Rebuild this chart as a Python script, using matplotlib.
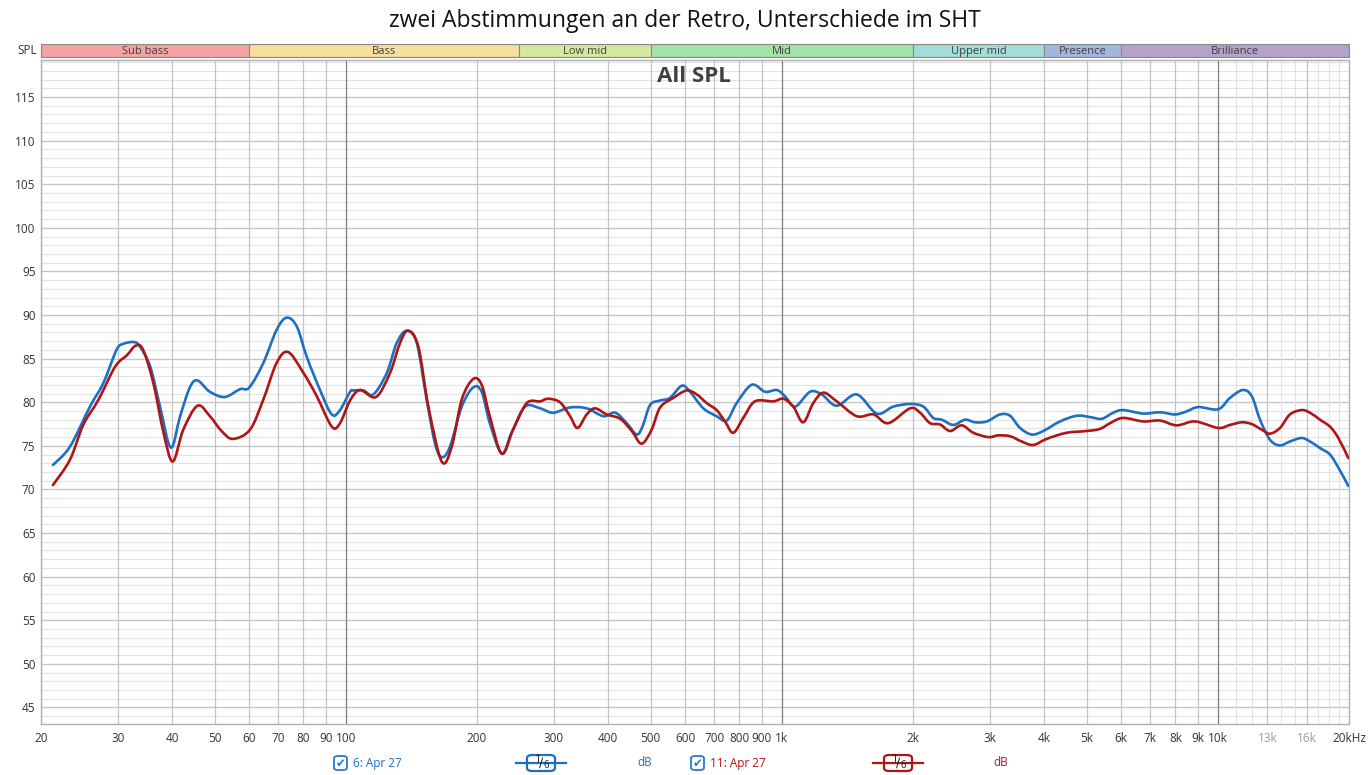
import numpy as np
import matplotlib
matplotlib.use('Agg')
import matplotlib.pyplot as plt
from matplotlib.patches import Rectangle, FancyBboxPatch, PathPatch
from matplotlib.path import Path

plt.rcParams['font.family'] = ['Open Sans', 'DejaVu Sans']

title = 'zwei Abstimmungen an der Retro, Unterschiede im SHT'

# frequency bands (name, start Hz, end Hz, colour)
band_names = ['Sub bass', 'Bass', 'Low mid', 'Mid', 'Upper mid', 'Presence', 'Brilliance']
band_edges = [20, 60, 250, 500, 2000, 4000, 6000, 20000]
band_colors = ['#f4a3a3', '#f7df9e', '#d5e99e', '#a3e2a8', '#a3ddd8', '#a3b6de', '#b6a3cc']

# measurement 6: Apr 27 (blue)
blue_f = [21.3, 23.3, 25.9, 27.8, 29.8, 30.9, 32.7, 33.7, 35.6, 37.5, 39.7, 41.7, 43.9, 45.7,
          48.8, 52.8, 57.2, 60.1, 64.7, 69.4, 73.2, 77.2, 81.4, 87.3, 92.9, 97.0, 102.3, 104.1,
          109.7, 115.7, 124.2, 130.9, 138, 145.5, 153.3, 160.2, 166, 173.4, 184.5, 196, 205,
          214, 228, 240, 258, 279, 299, 327, 357, 390, 415, 441, 465, 480, 499, 526, 554,
          590, 616, 661, 709, 748, 788, 853, 916, 974, 1017, 1073, 1161, 1235, 1337, 1486,
          1651, 1802, 1969, 2112, 2226, 2328, 2475, 2633, 2775, 2952, 3167, 3339, 3520, 3743,
          3979, 4347, 4748, 5093, 5418, 5759, 6071, 6750, 7372, 7980, 8484, 9024, 10023,
          10667, 11409, 11966, 12501, 13176, 13890, 14640, 15576, 16277, 17158, 18089,
          18906, 19930]
blue_db = [72.8, 74.9, 79.5, 82.2, 86.0, 86.7, 86.9, 86.4, 84.1, 79.5, 74.8, 78.4, 81.7, 82.5,
           81.2, 80.6, 81.5, 81.7, 84.5, 88.3, 89.7, 88.7, 85.2, 81.4, 78.6, 79.1, 81.2, 81.35,
           81.35, 80.9, 83.35, 86.8, 88.2, 86.8, 80.3, 75.3, 73.7, 74.9, 79.5, 81.7, 81.2,
           77.6, 74.1, 76.5, 79.5, 79.3, 78.8, 79.4, 79.3, 78.4, 78.8, 77.6, 76.3, 77.3, 79.7,
           80.2, 80.5, 81.9, 81.2, 79.3, 78.4, 77.9, 79.9, 82.0, 81.2, 81.4, 80.7, 79.5, 81.2,
           80.9, 79.6, 80.9, 78.7, 79.5, 79.8, 79.5, 78.2, 78.0, 77.4, 78.0, 77.7, 77.8, 78.6,
           78.45, 77.05, 76.3, 76.7, 77.8, 78.45, 78.3, 78.1, 78.8, 79.1, 78.7, 78.85, 78.6,
           78.95, 79.45, 79.2, 80.5, 81.4, 80.7, 78.0, 75.7, 75.05, 75.5, 75.9, 75.5, 74.75,
           74.0, 72.5, 70.4]

# measurement 11: Apr 27 (red)
red_f = [21.3, 23.3, 25.0, 27.1, 29.6, 31.5, 33.0, 34.3, 36.2, 38.2, 40.1, 42.4, 45.7, 48.8,
         51.9, 55.1, 60.3, 64.7, 69.4, 73.8, 80.0, 85.8, 92.9, 97.0, 102.3, 107.8, 117.3,
         126.3, 133.2, 139, 146.7, 154.7, 166, 175, 184.5, 196, 205, 214, 228, 242, 260, 279,
         291, 310, 327, 340, 357, 373, 397, 426, 453, 477, 503, 526, 564, 605, 638, 673, 709,
         741, 774, 816, 868, 956, 1008, 1063, 1120, 1181, 1246, 1337, 1486, 1623, 1755, 1969,
         2076, 2188, 2307, 2433, 2586, 2750, 2977, 3138, 3339, 3551, 3775, 4053, 4503, 5007,
         5370, 5710, 6071, 6750, 7372, 8052, 8868, 10023, 10667, 11350, 11966, 12614, 13176,
         13890, 14640, 15576, 16277, 17158, 18089, 18906, 19930]
red_db = [70.5, 73.4, 77.4, 80.3, 84.1, 85.4, 86.5, 86.0, 82.2, 76.5, 73.2, 76.85, 79.6, 78.4,
          76.7, 75.8, 76.85, 80.3, 84.5, 85.75, 83.35, 80.7, 77.2, 77.6, 80.2, 81.4, 80.6,
          83.35, 86.8, 88.2, 86.4, 79.5, 73.2, 74.9, 80.3, 82.66, 82.0, 78.4, 74.1, 76.85, 79.9,
          80.1, 80.4, 80.0, 78.4, 77.05, 78.6, 79.3, 78.6, 78.1, 76.7, 75.25, 76.85, 79.4,
          80.5, 81.35, 80.9, 79.9, 79.1, 77.8, 76.5, 78.2, 80.1, 80.1, 80.4, 79.5, 77.7, 79.9,
          81.1, 80.1, 78.4, 78.6, 77.6, 79.3, 78.8, 77.6, 77.45, 76.7, 77.35, 76.5, 76.0, 76.2,
          76.1, 75.5, 75.1, 75.8, 76.5, 76.7, 76.95, 77.7, 78.2, 77.8, 77.9, 77.35, 77.8, 77.05,
          77.4, 77.7, 77.5, 76.85, 76.4, 77.05, 78.6, 79.1, 78.8, 78.0, 77.2, 75.9, 73.6]

x_ticks = [20, 30, 40, 50, 60, 70, 80, 90, 100, 200, 300, 400, 500, 600, 700, 800, 900,
           1000, 2000, 3000, 4000, 5000, 6000, 7000, 8000, 9000, 10000, 13000, 16000, 20000]
x_labels = ['20', '30', '40', '50', '60', '70', '80', '90', '100', '200', '300', '400', '500',
            '600', '700', '800', '900', '1k', '2k', '3k', '4k', '5k', '6k', '7k', '8k', '9k',
            '10k', '13k', '16k', '20kHz']
y_ticks = list(range(45, 120, 5))

BLUE = '#1c6fc2'
RED = '#b01414'
W, H = 1369, 775

fig = plt.figure(figsize=(W / 100, H / 100), dpi=100)


def fx(px):
    return px / W


def fy(py):
    return 1 - py / H


def smooth_path(f, db):
    # cubic bezier through the points (catmull-rom style) in log-frequency space
    lx = np.log10(np.asarray(f, float))
    y = np.asarray(db, float)
    n = len(lx)
    verts = [(f[0], y[0])]
    codes = [Path.MOVETO]
    for i in range(n - 1):
        i0, i3 = max(i - 1, 0), min(i + 2, n - 1)
        c1x = lx[i] + (lx[i + 1] - lx[i0]) / 6
        c1y = y[i] + (y[i + 1] - y[i0]) / 6
        c2x = lx[i + 1] - (lx[i3] - lx[i]) / 6
        c2y = y[i + 1] - (y[i3] - y[i]) / 6
        verts += [(10 ** c1x, c1y), (10 ** c2x, c2y), (f[i + 1], y[i + 1])]
        codes += [Path.CURVE4] * 3
    return Path(verts, codes)


ax = fig.add_axes([fx(41), fy(724), fx(1349) - fx(41), fy(60) - fy(724)])
ax.set_xscale('log')
ax.set_xlim(20, 20000)
ax.set_ylim(43.1, 119.25)

# grid
for v in np.arange(44, 120, 1):
    ax.axhline(v, color='#e2e2e2', lw=0.8, zorder=0)
for v in y_ticks:
    ax.axhline(v, color='#c4c4c4', lw=0.9, zorder=0)
for f in range(11000, 20000, 1000):
    ax.axvline(f, color='#e2e2e2', lw=0.8, zorder=0)
for f in x_ticks[:-1]:
    c = '#808080' if f in (100, 1000, 10000) else '#c4c4c4'
    ax.axvline(f, color=c, lw=0.9, zorder=0.5)

for f, db, col, z in [(blue_f, blue_db, BLUE, 3), (red_f, red_db, RED, 4)]:
    ax.add_patch(PathPatch(smooth_path(f, db), facecolor='none', edgecolor=col, lw=1.9,
                           capstyle='round', joinstyle='round', zorder=z))

ax.set_xticks(x_ticks)
ax.set_xticklabels(x_labels)
ax.minorticks_off()
ax.set_yticks(y_ticks)
ax.tick_params(length=0, labelsize=8.5, labelcolor='#333333', pad=6)
ax.tick_params(axis='y', pad=4)
for lab in ax.get_xticklabels():
    if lab.get_text() in ('13k', '16k'):
        lab.set_color('#999999')
for s in ax.spines.values():
    s.set_color('#b0b0b0')
    s.set_linewidth(1.0)

fig.text(fx(694), fy(77), 'All SPL', ha='center', va='center',
         fontsize=16, fontweight='bold', color='#404040')

# band bar
bx = fig.add_axes([fx(41), fy(57), fx(1349) - fx(41), fy(44) - fy(57)])
bx.set_xscale('log')
bx.set_xlim(20, 20000)
bx.set_ylim(0, 1)
for name, lo, hi, col in zip(band_names, band_edges[:-1], band_edges[1:], band_colors):
    bx.add_patch(Rectangle((lo, 0), hi - lo, 1, facecolor=col, edgecolor='#8a8a8a', lw=0.8))
    bx.text(np.sqrt(lo * hi), 0.45, name, ha='center', va='center', fontsize=8, color='#404040')
bx.set_xticks([])
bx.set_yticks([])
bx.minorticks_off()
for s in bx.spines.values():
    s.set_color('#8a8a8a')
fig.text(fx(37), fy(50.5), 'SPL', ha='right', va='center', fontsize=8.5, color='#333333')

fig.text(0.5, fy(21), title, ha='center', va='center', fontsize=16.5, color='#111111')

# legend row
ly = fy(763)


def checkbox(px):
    fig.patches.append(FancyBboxPatch((fx(px - 6), fy(770)), fx(13), fy(756) - fy(770),
                                      boxstyle='round,pad=0,rounding_size=0.003',
                                      transform=fig.transFigure, facecolor='white',
                                      edgecolor='#2a78d0', lw=1.3))
    fig.text(fx(px + 0.5), ly, '\u2714', ha='center', va='center', fontsize=8.5,
             color='#2a78d0', family='DejaVu Sans')


def smooth_icon(px, col):
    fig.lines.append(plt.Line2D([fx(px - 25), fx(px + 25)], [ly, ly], color=col, lw=1.6,
                                transform=fig.transFigure))
    fig.patches.append(FancyBboxPatch((fx(px - 14), fy(771)), fx(28), fy(755) - fy(771),
                                      boxstyle='round,pad=0,rounding_size=0.004',
                                      transform=fig.transFigure, facecolor='white',
                                      edgecolor=col, lw=1.6))
    fig.text(fx(px - 4), fy(760), '1', ha='center', va='center', fontsize=8, color='#222222')
    fig.text(fx(px), ly, '\u2215', ha='center', va='center', fontsize=9, color='#222222',
             family='DejaVu Sans')
    fig.text(fx(px + 5), fy(766), '6', ha='center', va='center', fontsize=7, color='#222222')


checkbox(340)
fig.text(fx(353), ly, '6: Apr 27', ha='left', va='center', fontsize=8.5, color=BLUE)
smooth_icon(541, BLUE)
fig.text(fx(645), ly, 'dB', ha='center', va='center', fontsize=8.5, color=BLUE)
checkbox(697)
fig.text(fx(710), ly, '11: Apr 27', ha='left', va='center', fontsize=8.5, color=RED)
smooth_icon(898, RED)
fig.text(fx(1001), ly, 'dB', ha='center', va='center', fontsize=8.5, color=RED)

fig.savefig('out.png', dpi=100, facecolor='white')
